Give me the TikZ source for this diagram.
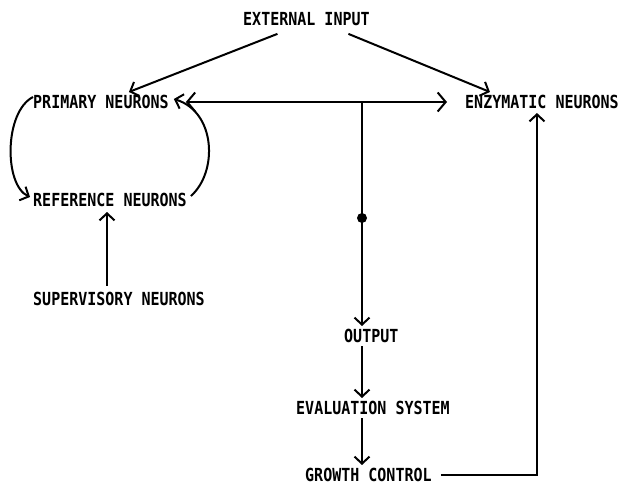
\documentclass[tikz,border=0pt]{standalone}
\usepackage{fontspec}
\setmonofont{DejaVu Sans Mono}
\usetikzlibrary{arrows.meta}
% printer-style lettering: bold mono caps, a little taller than normal
\newcommand{\tallcaps}[1]{\scalebox{1}[1.2]{#1}}
\begin{document}
\begin{tikzpicture}[x=1pt,y=-1pt,
  lbl/.style={font=\ttfamily\bfseries\fontsize{15}{16}\selectfont, inner sep=0pt, anchor=west},
  arr/.style={line width=2pt, -{Straight Barb[length=7pt,width=15pt,line width=2pt]}},
  darr/.style={line width=2pt, {Straight Barb[length=8pt,width=19pt,line width=2pt]}-{Straight Barb[length=8pt,width=19pt,line width=2pt]}},
  dot/.style={circle, fill=black, inner sep=0pt, minimum size=10pt}]
\useasboundingbox (0,0) rectangle (621,486);

% blocks
\node[lbl] (ext)  at (243,19)  {\tallcaps{EXTERNAL INPUT}};
\node[lbl] (prim) at (33,102)  {\tallcaps{PRIMARY NEURONS}};
\node[lbl] (enz)  at (465,102) {\tallcaps{ENZYMATIC NEURONS}};
\node[lbl] (ref)  at (33,200)  {\tallcaps{REFERENCE NEURONS}};
\node[lbl] (sup)  at (33,299)  {\tallcaps{SUPERVISORY NEURONS}};
\node[lbl] (out)  at (344,336) {\tallcaps{OUTPUT}};
\node[lbl] (eval) at (296,408) {\tallcaps{EVALUATION SYSTEM}};
\node[lbl] (grow) at (305,475) {\tallcaps{GROWTH CONTROL}};

% external input feeds both neuron groups
\draw[arr] ([shift={(-29,8)}]ext.south) -- ([shift={(28,-3)}]prim.north);
\draw[arr] ([shift={(42,8)}]ext.south) -- ([shift={(-52,-3)}]enz.north);

% primary <-> enzymatic, with the output tap
\draw[darr] ([xshift=17pt]prim.east) -- ([xshift=-18pt]enz.west);
\coordinate (junc) at (362,102);
\draw[arr, shorten >=3pt] (junc) -- (junc |- out.north);
\node[dot] (tap) at (362,218) {};

% output chain
\draw[arr, shorten <=3pt, shorten >=3pt] (junc |- out.south) -- (junc |- eval.north);
\draw[arr, shorten <=3pt, shorten >=3pt] (junc |- eval.south) -- (junc |- grow.north);

% growth control back to enzymatic neurons
\draw[arr, shorten >=4pt] ([xshift=9pt]grow.east) -| ([xshift=-5pt]enz.south);

% supervision of the reference neurons
\coordinate (supx) at ([xshift=-12pt]sup.north);
\draw[arr, shorten <=6pt, shorten >=5pt] (supx) -- (supx |- ref.south);

% primary / reference loop
\draw[arr] ([shift={(0,-5)}]prim.west) .. controls (4,112) and (4,185) .. ([shift={(-3,-3)}]ref.west);
\draw[arr] ([shift={(4,-4)}]ref.east) .. controls (218,172) and (216,112) .. ([shift={(5,-3)}]prim.east);
\end{tikzpicture}
\end{document}
